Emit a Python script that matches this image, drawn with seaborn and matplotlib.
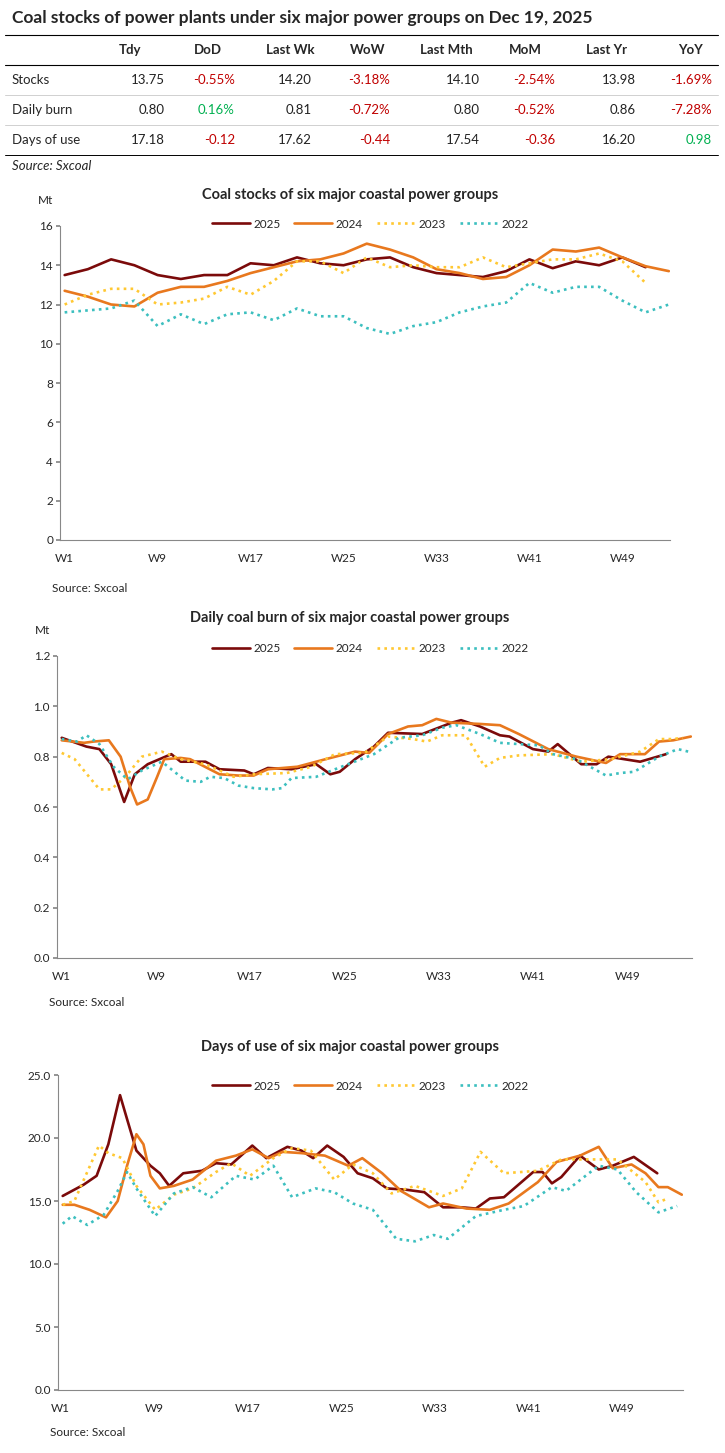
import matplotlib
matplotlib.use("Agg")
import matplotlib.pyplot as plt
import pandas as pd
import seaborn as sns

sns.set_theme(style="white")
plt.rcParams['font.family'] = ['Lato', 'DejaVu Sans']

# ---- summary table ----
col_names = ["Tdy", "DoD", "Last Wk", "WoW", "Last Mth", "MoM", "Last Yr", "YoY"]
row_names = ["Stocks", "Daily burn", "Days of use"]
table_vals = [
    ["13.75", "-0.55%", "14.20", "-3.18%", "14.10", "-2.54%", "13.98", "-1.69%"],
    ["0.80", "0.16%", "0.81", "-0.72%", "0.80", "-0.52%", "0.86", "-7.28%"],
    ["17.18", "-0.12", "17.62", "-0.44", "17.54", "-0.36", "16.20", "0.98"],
]

years = ["2025", "2024", "2023", "2022"]
wk_odd = list(range(1, 54, 2))

# ---- coal stocks (Mt), odd weeks ----
stock_2025 = [13.5, 13.8, 14.3, 14.0, 13.5, 13.3, 13.5, 13.5, 14.1, 14.0, 14.4, 14.1, 14.0,
              14.3, 14.4, 13.9, 13.6, 13.5, 13.4, 13.7, 14.3, 13.85, 14.2, 14.0, 14.4, 13.9]
stock_2024 = [12.7, 12.4, 12.0, 11.9, 12.6, 12.9, 12.9, 13.2, 13.6, 13.9, 14.2, 14.3, 14.6, 15.1,
              14.8, 14.4, 13.8, 13.6, 13.3, 13.4, 14.0, 14.8, 14.7, 14.9, 14.4, 13.95, 13.7]
stock_2023 = [12.0, 12.5, 12.8, 12.8, 12.0, 12.1, 12.3, 12.9, 12.5, 13.2, 14.2, 14.2, 13.6,
              14.4, 13.9, 14.0, 13.9, 13.9, 14.4, 13.9, 14.1, 14.3, 14.3, 14.6, 14.2, 13.1]
stock_2022 = [11.6, 11.7, 11.8, 12.2, 10.9, 11.5, 11.0, 11.5, 11.6, 11.2, 11.8, 11.4, 11.4, 10.8,
              10.5, 10.9, 11.1, 11.6, 11.9, 12.1, 13.1, 12.6, 12.9, 12.9, 12.2, 11.6, 12.0]

# ---- daily burn (Mt) ----
burn_wk_2025 = [1, 3.1, 4.2, 5.2, 6.3, 7.2, 8.3, 10.3, 11.1, 13.2, 14.4, 16.5, 17.3, 18.5, 20.5,
                22.6, 23.8, 24.6, 25.9, 27.5, 28.7, 31.6, 34.1, 34.9, 36.5, 38.2, 39, 41, 42.3,
                43.1, 45.1, 46.4, 47.4, 50.1, 52.3]
burn_2025 = [.875, .84, .83, .77, .62, .73, .77, .81, .78, .78, .75, .745, .73, .755, .75,
             .77, .73, .74, .79, .84, .895, .89, .935, .945, .92, .885, .88, .83, .82,
             .85, .77, .77, .80, .78, .81]
burn_wk_2024 = [1, 2.9, 3.7, 5, 6, 6.8, 7.4, 8.3, 9.1, 9.7, 11.1, 11.9, 14.4, 16, 17.3, 18.5,
                21, 23.4, 25.9, 27.1, 28.7, 30.4, 31.6, 32.8, 34.1, 36.5, 38.2, 39.8, 42.3,
                44.7, 47.2, 48.4, 50.5, 51.7, 52.9, 54.4]
burn_2024 = [.865, .855, .86, .865, .80, .68, .61, .63, .72, .79, .795, .79, .73, .725, .725, .75,
             .76, .79, .82, .815, .89, .92, .925, .95, .935, .93, .925, .89, .83,
             .80, .775, .81, .81, .86, .865, .88]
burn_wk_2023 = [1, 2.1, 4.2, 5.2, 6.4, 7.8, 9.5, 11.1, 13.2, 15.6, 17.3, 20.1, 22.2, 24.2, 26.7,
                28.7, 30.8, 32, 33.3, 35.3, 36.9, 38.2, 39.8, 42.7, 45.1, 47.6, 50.1, 51.7, 52.9, 53.7]
burn_2023 = [.815, .79, .67, .67, .72, .80, .82, .79, .77, .72, .73, .735, .76, .81, .815,
             .88, .87, .86, .885, .885, .76, .795, .805, .81, .78, .79, .82, .87, .87, .875]
burn_wk_2022 = [1, 2.3, 3.1, 4.2, 5.4, 6.6, 7.8, 9.5, 11.5, 12.8, 13.6, 14.8, 16, 17.3, 18.9,
                19.7, 20.5, 22.6, 24.2, 27.5, 29.6, 31.6, 33.3, 34.5, 36.5, 38.2, 39.8, 41.5,
                42.7, 44.7, 47.2, 48.4, 49.6, 51.7, 53.3, 54.2]
burn_2022 = [.87, .86, .885, .85, .76, .71, .745, .78, .705, .70, .72, .715, .685, .675, .67,
             .675, .715, .72, .75, .81, .875, .885, .915, .925, .89, .855, .85, .845,
             .81, .79, .725, .735, .74, .80, .83, .82]

# ---- days of use ----
days_wk_2025 = [1.2, 3, 4.1, 5.1, 6.1, 6.7, 7.5, 8.7, 9.5, 10.3, 11.5, 13.1, 14.3, 15.6, 17.4,
                18.6, 20.4, 21.6, 22.6, 23.8, 25.2, 26.4, 27.7, 28.9, 30.5, 32.1, 33.7, 35.3,
                36.5, 37.7, 38.9, 41.4, 42.2, 43, 43.8, 45.4, 47, 48.2, 50, 52]
days_2025 = [15.4, 16.3, 17.0, 19.5, 23.4, 21.5, 19.0, 17.8, 17.2, 16.2, 17.2, 17.4, 18.0, 17.9,
             19.4, 18.4, 19.3, 19.0, 18.4, 19.4, 18.5, 17.2, 16.8, 16.0, 15.9, 15.7, 14.5,
             14.5, 14.4, 15.2, 15.3, 17.3, 17.3, 16.4, 16.9, 18.6, 17.5, 17.8, 18.5, 17.2]
days_wk_2024 = [1.2, 2.2, 3.5, 4.9, 5.9, 6.7, 7.5, 8.1, 8.7, 9.5, 10.7, 12.3, 14.3, 16, 17.4,
                18.8, 20, 21.6, 23.6, 25.6, 26.8, 28.5, 30.1, 32.5, 33.7, 35.7, 37.7, 39.3,
                41.8, 43.4, 45.4, 47, 48.2, 49.8, 51, 52.1, 52.9, 54.1]
days_2024 = [14.7, 14.7, 14.3, 13.7, 15.0, 17.8, 20.3, 19.5, 17.0, 16.0, 16.2, 16.7, 18.2, 18.6,
             19.1, 18.4, 18.9, 18.8, 18.6, 17.8, 18.4, 17.2, 15.8, 14.5, 14.8, 14.4, 14.3,
             14.8, 16.5, 18.1, 18.6, 19.3, 17.6, 17.9, 17.2, 16.1, 16.1, 15.5]
days_wk_2023 = [1.2, 2.2, 4.3, 5.1, 6.3, 7.5, 9.1, 10.7, 12.3, 14.3, 15.6, 17.2, 19.2, 20.8,
                22.4, 24.4, 26, 27.7, 29.3, 31.3, 33.7, 35.3, 36.9, 38.9, 41.8, 43.8, 47,
                48.6, 51, 52.1, 52.9]
days_2023 = [14.7, 15.0, 19.4, 18.8, 18.4, 16.2, 14.3, 15.5, 16.0, 17.3, 18.0, 17.0, 18.4, 19.2,
             19.0, 16.7, 17.9, 17.2, 15.6, 16.2, 15.4, 16.0, 18.9, 17.2, 17.4, 18.3, 18.3,
             18.3, 16.5, 14.9, 15.2]
days_wk_2022 = [1.2, 2, 3.3, 4.7, 5.9, 6.7, 7.5, 9.1, 10.7, 12.3, 13.9, 16, 17.6, 19.2, 20.8,
                22.8, 24.4, 26, 27.7, 29.7, 31.3, 32.9, 34.1, 36.5, 38.9, 40.6, 43, 44.2, 47,
                48.6, 50.2, 52.1, 53.7]
days_2022 = [13.2, 13.8, 13.1, 13.9, 15.8, 17.3, 16.0, 13.8, 15.6, 16.1, 15.3, 17.0, 16.7, 17.8,
             15.3, 16.0, 15.7, 14.8, 14.3, 12.0, 11.8, 12.3, 12.0, 13.8, 14.3, 14.6, 16.1, 15.8,
             17.8, 17.5, 15.7, 14.1, 14.6]

week_ticks = [1, 9, 17, 25, 33, 41, 49]

palette = {"2025": "#7b0a0a", "2024": "#e8781e", "2023": "#ffc832", "2022": "#3cbfbf"}
dashes = {"2025": "", "2024": "", "2023": (1, 1.6), "2022": (1, 1.6)}
RED, GREEN = "#c00000", "#00b050"

W, H = 725, 1453
fig = plt.figure(figsize=(W / 100, H / 100), dpi=100)


def fx(x):
    return x / W


def fy(y):
    return 1 - y / H


# title and table
fig.text(fx(12), fy(18), "Coal stocks of power plants under six major power groups on Dec 19, 2025",
         fontsize=12.5, fontweight="bold", va="center")
header_x = [130, 208, 290, 368, 446, 525, 607, 690]
value_x = [165, 235, 312, 390, 480, 555, 636, 712]
for hx, name in zip(header_x, col_names):
    fig.text(fx(hx), fy(50), name, fontsize=9.5, fontweight="bold", ha="center", va="center")
fig.add_artist(plt.Line2D([fx(5), fx(718)], [fy(35), fy(35)], color="black", lw=0.8))
fig.add_artist(plt.Line2D([fx(5), fx(718)], [fy(65), fy(65)], color="black", lw=0.8))
for i, (rname, vals) in enumerate(zip(row_names, table_vals)):
    y = 80 + 30 * i
    fig.text(fx(12), fy(y), rname, fontsize=9.5, va="center")
    for j, v in enumerate(vals):
        color = "#222222"
        if j % 2 == 1:
            color = RED if v.startswith("-") else GREEN
        fig.text(fx(value_x[j]), fy(y), v, fontsize=9.5, ha="right", va="center", color=color)
    line_col = "#d0d0d0" if i < 2 else "black"
    fig.add_artist(plt.Line2D([fx(5), fx(718)], [fy(y + 15), fy(y + 15)], color=line_col, lw=0.7))
fig.text(fx(12), fy(166), "Source: Sxcoal", fontsize=9.5, style="italic", va="center")


def chart(box, series, title, ylim, yticks, fmt, unit, title_y, src_y, legend_y):
    left, top, right, bottom = box
    ax = fig.add_axes([fx(left), fy(bottom), fx(right - left), (bottom - top) / H])
    frames = []
    for yr, (wk, vals) in zip(years, series):
        frames.append(pd.DataFrame({"week": wk, "value": vals, "year": yr}))
    df = pd.concat(frames, ignore_index=True)
    sns.lineplot(data=df, x="week", y="value", hue="year", style="year", palette=palette,
                 dashes=dashes, hue_order=years, style_order=years, estimator=None,
                 sort=False, lw=1.9, ax=ax)
    ax.set_xlim(df["week"].min() - 0.4, df["week"].max() + 0.1)
    ax.set_ylim(*ylim)
    ax.set_yticks(yticks)
    ax.set_yticklabels([fmt.format(t) for t in yticks])
    ax.set_xticks(week_ticks)
    ax.set_xticklabels([f"W{w}" for w in week_ticks])
    ax.set_xlabel("")
    ax.set_ylabel("")
    for s in ["top", "right"]:
        ax.spines[s].set_visible(False)
    for s in ["left", "bottom"]:
        ax.spines[s].set_color("#888888")
        ax.spines[s].set_linewidth(0.8)
    ax.tick_params(axis="y", left=True, length=3, color="#888888", labelsize=8.5, pad=2)
    ax.tick_params(axis="x", bottom=False, labelsize=8.5, pad=3)
    handles, labels = ax.get_legend_handles_labels()
    ax.legend(handles, labels, loc="center", ncol=4, frameon=False, fontsize=8.5,
              handlelength=3.2, columnspacing=1.2, handletextpad=0.3,
              bbox_to_anchor=((fx(370) - fx(left)) / fx(right - left),
                              (bottom - legend_y) / (bottom - top)))
    fig.text(fx(350), fy(title_y), title, fontsize=10.5, fontweight="bold", ha="center", va="center")
    if unit:
        fig.text(fx(left - 22), fy(top - 25), unit, fontsize=8.5, va="center")
    fig.text(fx(left - 8), fy(src_y), "Source: Sxcoal", fontsize=8.5, va="center")
    return ax


chart((60, 226, 670, 540),
      [(wk_odd[:len(stock_2025)], stock_2025), (wk_odd, stock_2024),
       (wk_odd[:len(stock_2023)], stock_2023), (wk_odd, stock_2022)],
      "Coal stocks of six major coastal power groups", (0, 16), list(range(0, 17, 2)), "{:.0f}",
      "Mt", 195, 588, 224)
chart((57, 656, 692, 958),
      [(burn_wk_2025, burn_2025), (burn_wk_2024, burn_2024),
       (burn_wk_2023, burn_2023), (burn_wk_2022, burn_2022)],
      "Daily coal burn of six major coastal power groups", (0, 1.2),
      [0, 0.2, 0.4, 0.6, 0.8, 1.0, 1.2], "{:.1f}", "Mt", 618, 1003, 649)
chart((58, 1075, 683, 1390),
      [(days_wk_2025, days_2025), (days_wk_2024, days_2024),
       (days_wk_2023, days_2023), (days_wk_2022, days_2022)],
      "Days of use of six major coastal power groups", (0, 25), [0, 5, 10, 15, 20, 25], "{:.1f}",
      None, 1047, 1432, 1086)

fig.savefig("out.png", dpi=100)
